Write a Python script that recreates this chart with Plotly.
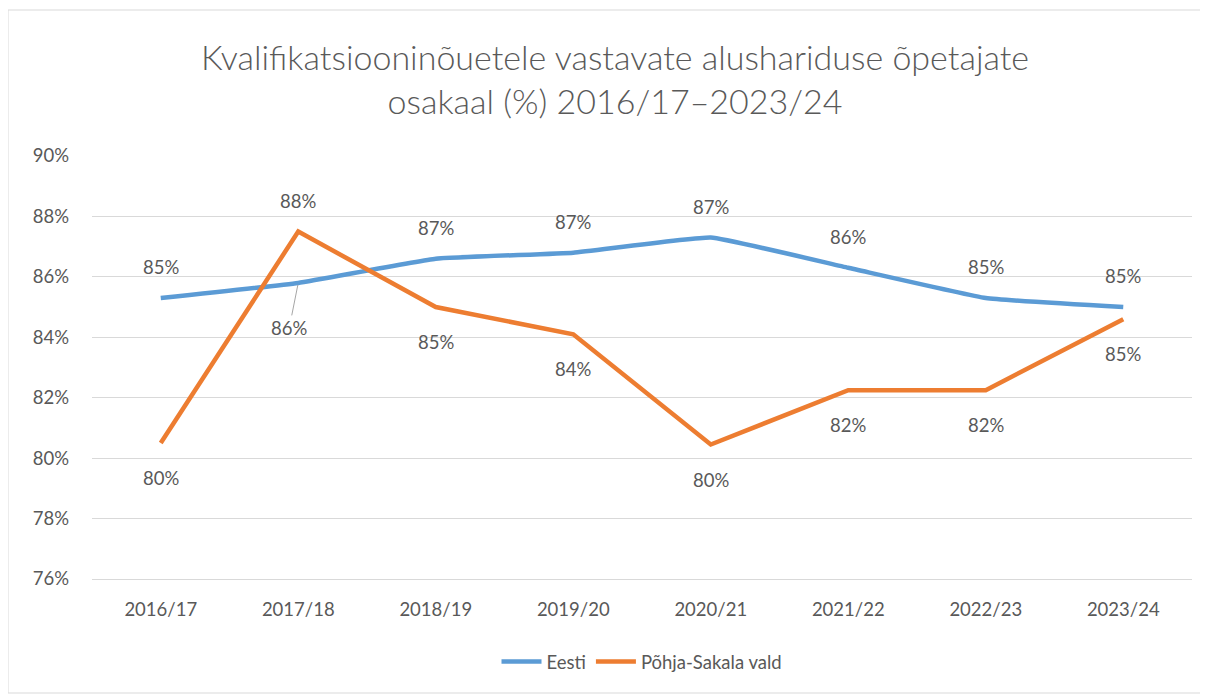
import plotly.graph_objects as go

categories = ["2016/17", "2017/18", "2018/19", "2019/20", "2020/21", "2021/22", "2022/23", "2023/24"]
eesti = [85.3, 85.8, 86.6, 86.8, 87.3, 86.3, 85.3, 85.0]
pohja = [80.5, 87.5, 85.0, 84.1, 80.45, 82.25, 82.25, 84.6]
# label side: +1 above, -1 below
eesti_side = [1, -1, 1, 1, 1, 1, 1, 1]
pohja_side = [-1, 1, -1, -1, -1, -1, -1, -1]
y_ticks = [76, 78, 80, 82, 84, 86, 88, 90]

BLUE = "#5B9BD5"
ORANGE = "#ED7D31"
TXT = "#595959"
FONT = "Lato"
FS = 18.5

fig = go.Figure()
fig.add_trace(go.Scatter(x=categories, y=eesti, mode="lines", name="Eesti",
                         line=dict(color=BLUE, width=4.5, shape="spline", smoothing=0.3)))
fig.add_trace(go.Scatter(x=categories, y=pohja, mode="lines", name="Põhja-Sakala vald",
                         line=dict(color=ORANGE, width=4.5)))

annotations = []
for vals, sides in ((eesti, eesti_side), (pohja, pohja_side)):
    for c, v, s in zip(categories, vals, sides):
        txt = f"{round(v):d}%"
        if vals is eesti and c == "2017/18":
            annotations.append(dict(x=c, y=v, text=txt, showarrow=True, ax=-9, ay=45,
                                    arrowhead=0, arrowwidth=1, arrowcolor="#A6A6A6", standoff=2,
                                    font=dict(size=FS, color=TXT, family=FONT)))
        else:
            annotations.append(dict(x=c, y=v, text=txt, showarrow=False,
                                    yshift=31 if s > 0 else -35,
                                    font=dict(size=FS, color=TXT, family=FONT)))

fig.update_layout(
    width=1200, height=687,
    margin=dict(l=84, r=16, t=148, b=116),
    paper_bgcolor="white", plot_bgcolor="white",
    font=dict(family=FONT, color=TXT, size=FS),
    title=dict(text="Kvalifikatsiooninõuetele vastavate alushariduse õpetajate<br>osakaal (%) 2016/17–2023/24",
               x=(615 - 8) / 1200, xanchor="center", y=1 - 62 / 687, yanchor="middle", yref="container",
               font=dict(size=34, color=TXT, family=FONT, weight=300)),
    xaxis=dict(range=[-0.5, 7.5], showgrid=False, showline=True, linecolor="#D9D9D9", linewidth=1,
               ticks="", tickfont=dict(size=FS, color=TXT), ticklabelstandoff=14),
    yaxis=dict(range=[76, 90], tickvals=y_ticks, ticktext=[f"{t}%" for t in y_ticks],
               showgrid=True, gridcolor="#D9D9D9", gridwidth=1, zeroline=False,
               showline=False, ticks="", tickfont=dict(size=FS, color=TXT), ticklabelstandoff=22),
    legend=dict(orientation="h", x=0.5, xanchor="center", y=-0.196, yanchor="middle",
                font=dict(size=FS, color=TXT), itemwidth=40),
    annotations=annotations,
    shapes=[dict(type="rect", xref="paper", yref="paper",
                 x0=-(92 - 8) / 1100, x1=1 + (1206 - 1192) / 1100,
                 y0=-(693 - 579) / 423, y1=1 + (156 - 10) / 423,
                 line=dict(color="#D9D9D9", width=1), layer="below")],
)

fig.write_html("out.html")
